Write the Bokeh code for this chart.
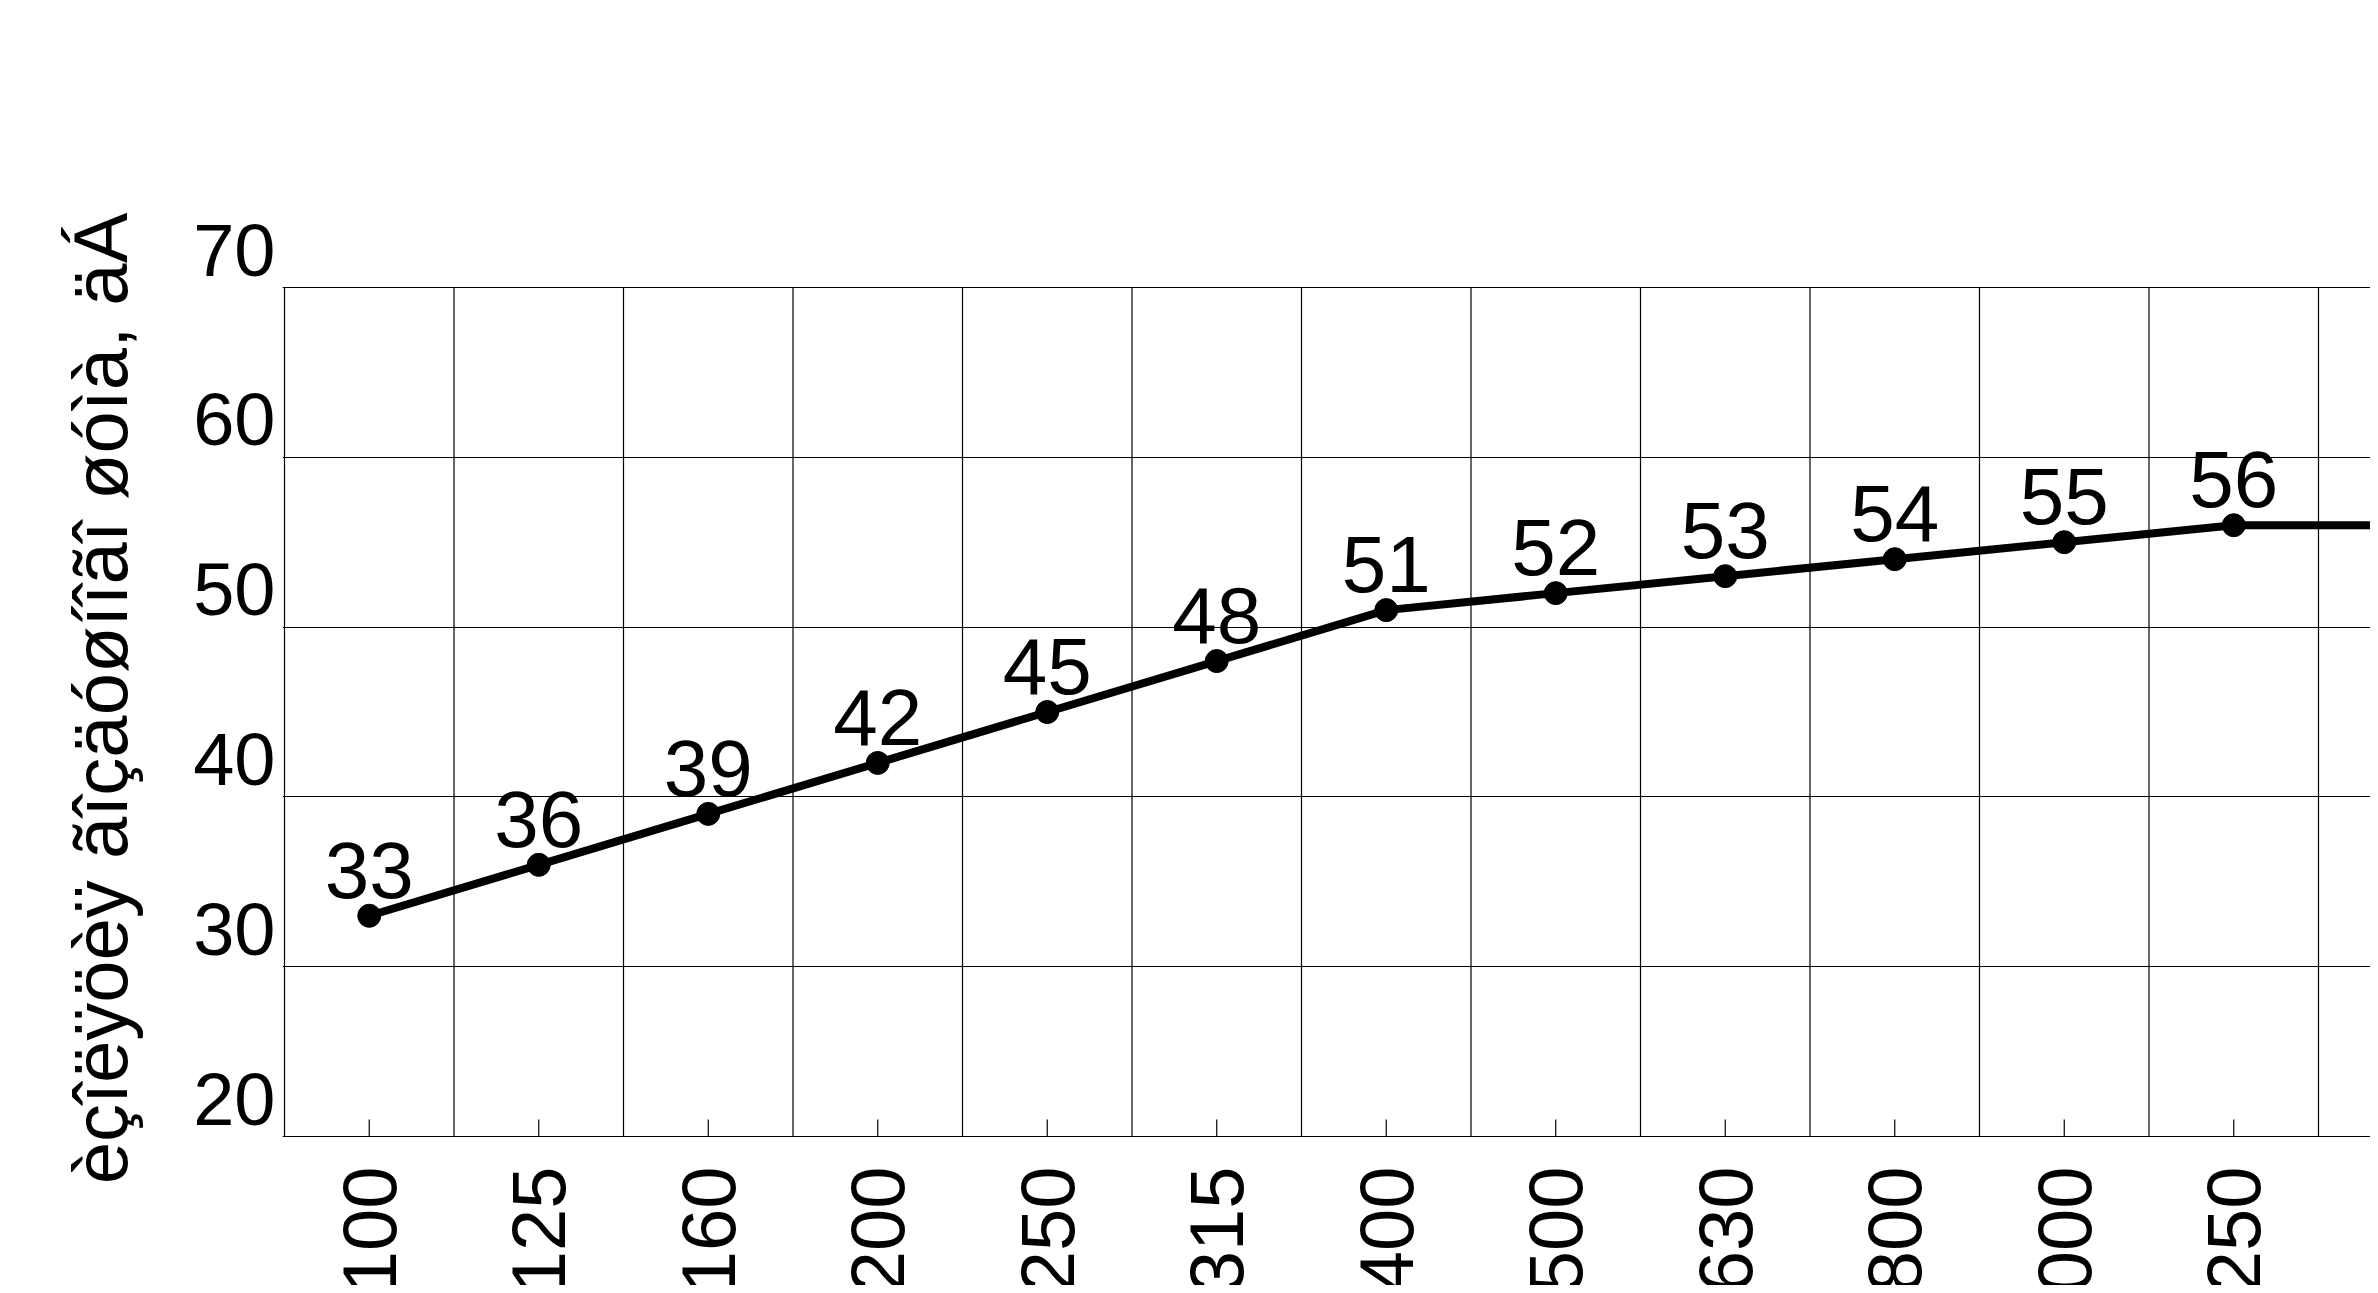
import numpy as np
from bokeh.plotting import figure
from bokeh.models import Range1d, FixedTicker, LinearAxis
from bokeh.core.properties import value
from bokeh.embed import file_html
from bokeh.resources import INLINE

# ---- data ----
frequencies = ["100", "125", "160", "200", "250", "315", "400", "500",
               "630", "800", "1000", "1250", "1600"]
insulation_db = [33, 36, 39, 42, 45, 48, 51, 52, 53, 54, 55, 56, 56]
y_ticks = [20, 30, 40, 50, 60, 70]
y_title = "èçîëÿöèÿ ãîçäóøíîãî øóìà, äÁ"

# ---- layout (pixels) ----
FIG_W, FIG_H = 2370, 1285
FRAME_LEFT, FRAME_TOP = 282, 111         # figure coords
BOX_LEFT, BOX_TOP, BOX_BOTTOM = 284, 287, 1136   # grid box in figure coords
CAT_W = 169.5                              # px per category
PX_PER_UNIT = (BOX_BOTTOM - BOX_TOP) / (y_ticks[-1] - y_ticks[0])
LABEL_SHIFT = 2.2                          # y tick labels sit above grid lines
FONT = "'Liberation Sans', Arial, sans-serif"

n = len(frequencies)
xc = [i + 0.5 for i in range(n)]
bounds = list(range(n + 1))

x0 = -(BOX_LEFT - FRAME_LEFT) / CAT_W
x1 = x0 + (FIG_W - FRAME_LEFT) / CAT_W
y_lo = y_ticks[0] - (FIG_H - BOX_BOTTOM) / PX_PER_UNIT
y_hi = y_ticks[-1] + (BOX_TOP - FRAME_TOP) / PX_PER_UNIT

p = figure(width=FIG_W, height=FIG_H, output_backend="svg", toolbar_location=None,
           x_range=Range1d(x0, x1), y_range=Range1d(y_lo, y_hi),
           x_axis_location=None, y_axis_location=None,
           min_border_left=FRAME_LEFT, min_border_top=FRAME_TOP,
           min_border_right=0, min_border_bottom=0)
p.background_fill_color = "white"
p.border_fill_color = "white"
p.outline_line_color = None

# horizontal grid lines
p.xgrid.visible = False
p.ygrid.ticker = FixedTicker(ticks=y_ticks)
p.ygrid.grid_line_color = "black"
p.ygrid.grid_line_width = 1.2
p.ygrid.grid_line_alpha = 1

# vertical category boundaries, only inside the grid box
p.segment(x0=bounds, y0=[y_ticks[0]] * len(bounds), x1=bounds,
          y1=[y_ticks[-1]] * len(bounds), line_color="black", line_width=1.2)

# small inner ticks at category centres
p.ray(x=xc, y=[y_ticks[0]] * n, length=17, length_units="screen",
      angle=np.pi / 2, line_color="black", line_width=1.2)

# y axis on a shifted range so its labels sit above their grid lines
p.extra_y_ranges = {"ylab": Range1d(y_lo - LABEL_SHIFT, y_hi - LABEL_SHIFT)}
ya = LinearAxis(y_range_name="ylab", ticker=FixedTicker(ticks=y_ticks))
ya.axis_line_color = None
ya.major_tick_line_color = None
ya.major_tick_out = 0
ya.major_tick_in = 0
ya.minor_tick_line_color = None
ya.minor_tick_out = 0
ya.major_label_text_font = FONT
ya.major_label_text_font_size = "74px"
ya.major_label_text_color = "black"
ya.major_label_standoff = 7
ya.axis_label = y_title
ya.axis_label_text_font = FONT
ya.axis_label_text_font_size = "76px"
ya.axis_label_text_font_style = "normal"
ya.axis_label_text_color = "black"
ya.axis_label_standoff = 47
p.add_layout(ya, "left")

# rotated category labels below the grid box
p.text(x=xc, y=[y_ticks[0]] * n, text=frequencies, angle=np.pi / 2,
       y_offset=30, text_align="right", text_baseline="middle",
       text_font=value(FONT), text_font_size="76px", text_color="black")

# the series
p.line(xc, insulation_db, line_width=8, line_color="black")
p.scatter(xc, insulation_db, size=23, fill_color="black", line_color="black")

vis = [i for i in range(n) if xc[i] < x1]
p.text(x=[xc[i] for i in vis], y=[insulation_db[i] for i in vis],
       text=[str(insulation_db[i]) for i in vis],
       text_align="center", text_baseline="bottom", y_offset=-18,
       text_font=value(FONT), text_font_size="80px", text_color="black")

open("out.html", "w").write(file_html(p, INLINE))
